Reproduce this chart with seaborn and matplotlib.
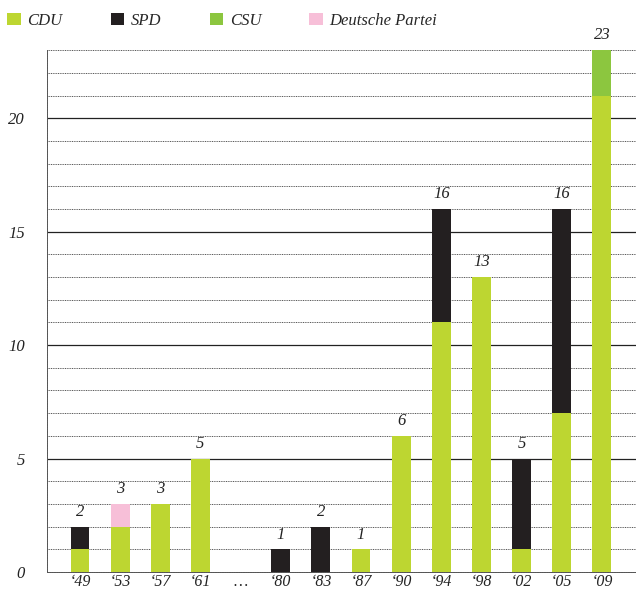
import numpy as np
import pandas as pd
import matplotlib
matplotlib.use('Agg')
import matplotlib.pyplot as plt
import seaborn as sns
from matplotlib.patches import Patch

# Election years ('…' marks the gap in the series)
years = ["‘49", "‘53", "‘57", "‘61", "…", "‘80", "‘83", "‘87", "‘90", "‘94", "‘98", "‘02", "‘05", "‘09"]
cdu = [1, 2, 3, 5, 0, 0, 0, 1, 6, 11, 13, 1, 7, 21]
spd = [1, 0, 0, 0, 0, 1, 2, 0, 0, 5, 0, 4, 9, 0]
csu = [0, 0, 0, 0, 0, 0, 0, 0, 0, 0, 0, 0, 0, 2]
dp = [0, 1, 0, 0, 0, 0, 0, 0, 0, 0, 0, 0, 0, 0]

colors = {'CDU': '#bdd631', 'SPD': '#231f20', 'CSU': '#8cc63f', 'Deutsche Partei': '#f7bfd8'}

df = pd.DataFrame({'year': years, 'CDU': cdu, 'SPD': spd, 'CSU': csu, 'DP': dp})
df['lvl_spd'] = df['CDU'] + df['SPD']
df['lvl_csu'] = df['lvl_spd'] + df['CSU']
df['total'] = df['lvl_csu'] + df['DP']

sns.set_style('white')
plt.rcParams['font.family'] = ['Liberation Serif', 'DejaVu Serif']
plt.rcParams['font.style'] = 'italic'

fig = plt.figure(figsize=(6.36, 5.9), dpi=100)
ax = fig.add_axes([0.074, 0.0305, 0.926, 0.8845])

# gridlines: solid every 5, dotted every 1
for v in range(1, 24):
    if v % 5 == 0:
        ax.axhline(v, color='#222222', lw=0.9, zorder=0)
    else:
        ax.axhline(v, color='#555555', lw=0.7, ls=(0, (1, 0.8)), zorder=0)

# stacked bars drawn as overlapping cumulative layers
layers = [('total', colors['Deutsche Partei']), ('lvl_csu', colors['CSU']),
          ('lvl_spd', colors['SPD']), ('CDU', colors['CDU'])]
for col, c in layers:
    sns.barplot(data=df, x='year', y=col, color=c, order=years, width=0.47,
                saturation=1, edgecolor='none', linewidth=0, ax=ax, zorder=2)

for i, t in enumerate(df['total']):
    if t > 0:
        ax.text(i, t + 0.3, str(t), ha='center', va='bottom', fontsize=12,
                style='italic', color='#222222')

ax.set_xlim(-0.82, 13.85)
ax.set_ylim(0, 23)
ax.set_yticks([0, 5, 10, 15, 20])
ax.set_yticklabels(['0', '5', '10', '15', '20'], fontsize=12, style='italic', color='#222222')
ax.set_xticks(range(len(years)))
ax.set_xticklabels(years, fontsize=11.5, style='italic', color='#222222')
ax.tick_params(axis='both', length=0)
ax.tick_params(axis='y', pad=16)
ax.tick_params(axis='x', pad=1.5)
ax.set_xlabel('')
ax.set_ylabel('')
for s in ['top', 'right']:
    ax.spines[s].set_visible(False)
for s in ['left', 'bottom']:
    ax.spines[s].set_linestyle((0, (1, 0.8)))
    ax.spines[s].set_color('#555555')
    ax.spines[s].set_linewidth(0.7)

handles = [Patch(facecolor=c, edgecolor='none') for c in colors.values()]
fig.legend(handles, list(colors.keys()), loc='upper left', bbox_to_anchor=(-0.012, 1.004),
           ncol=4, frameon=False, handlelength=0.8, handleheight=0.8,
           handletextpad=0.4, columnspacing=2.9, prop={'style': 'italic', 'size': 12})

fig.savefig('out.png', dpi=100)
